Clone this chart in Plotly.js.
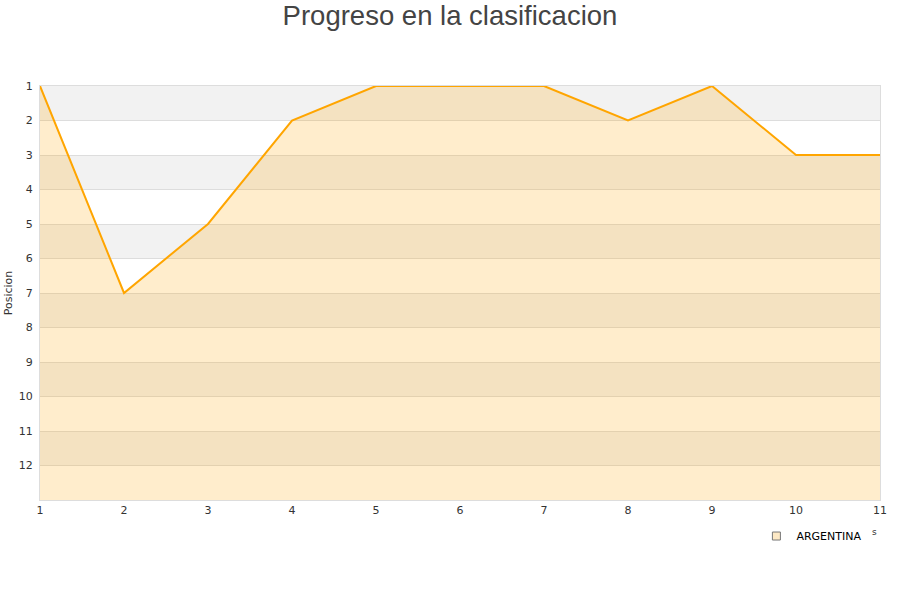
<!DOCTYPE html>
<html>
<head>
<meta charset="utf-8">
<script src="https://cdn.plot.ly/plotly-3.0.1.min.js"></script>
<style>html,body{margin:0;padding:0;background:#fff;}#chart{width:900px;height:600px;}</style>
</head>
<body>
<div id="chart"></div>
<script>
const jornadas = [1, 2, 3, 4, 5, 6, 7, 8, 9, 10, 11];
const posiciones = [1, 7, 5, 2, 1, 1, 1, 2, 1, 3, 3];
const teamName = "ARGENTINA";
const yTicks = [1, 2, 3, 4, 5, 6, 7, 8, 9, 10, 11, 12];
const bottomPos = 13;
const bandStarts = [1, 3, 5, 7, 9, 11];

const baseline = jornadas.map(() => bottomPos);

const traces = [
  {x: jornadas, y: baseline, mode: 'lines', line: {width: 0, color: 'rgba(0,0,0,0)'},
   showlegend: false, hoverinfo: 'skip'},
  {x: jornadas, y: posiciones, mode: 'lines', fill: 'tonexty',
   fillcolor: 'rgba(255,165,0,0.2)', line: {color: '#FFA500', width: 2},
   showlegend: false, name: teamName},
  {x: [null], y: [null], mode: 'markers', name: teamName,
   marker: {symbol: 'square', size: 8, color: '#fde9c5', line: {color: '#777', width: 1}}}
];

const shapes = bandStarts.map(s => ({
  type: 'rect', xref: 'x', yref: 'y', x0: jornadas[0], x1: jornadas[jornadas.length-1],
  y0: s, y1: s + 1, fillcolor: '#f2f2f2', line: {width: 0}, layer: 'below'
}));

const layout = {
  width: 900, height: 600,
  margin: {l: 40, r: 20, t: 86, b: 100},
  paper_bgcolor: '#fff', plot_bgcolor: '#fff',
  font: {family: 'DejaVu Sans, sans-serif', size: 11, color: '#333'},
  title: {text: 'Progreso en la clasificacion', x: 0.5, xanchor: 'center', y: 0.99, yanchor: 'top',
          font: {family: 'Liberation Sans, Arial, sans-serif', size: 27.5, color: '#444'}},
  xaxis: {range: [1, 11], tickvals: jornadas, showgrid: false, zeroline: false,
          showline: true, linecolor: '#ddd', linewidth: 1, mirror: true,
          ticks: '', tickfont: {size: 11, color: '#333'}, fixedrange: true},
  yaxis: {range: [13, 1], tickvals: yTicks, showgrid: true, gridcolor: '#dddddd', gridwidth: 1,
          zeroline: false, showline: true, linecolor: '#ddd', mirror: true, ticks: '',
          ticklabelstandoff: 4,
          tickfont: {size: 11, color: '#333'},
          title: {text: 'Posicion', font: {size: 11, color: '#333'}, standoff: 3}},
  shapes: shapes,
  showlegend: true,
  legend: {x: 0.985, xanchor: 'right', y: -0.087, yanchor: 'middle', orientation: 'h',
           bgcolor: 'rgba(255,255,255,0)', font: {size: 11, color: '#000'}},
  annotations: [{xref: 'paper', yref: 'paper', x: 0.994, y: -0.078, xanchor: 'center', yanchor: 'middle',
                 text: 's', showarrow: false, font: {size: 9, color: '#333'}}]
};

Plotly.newPlot('chart', traces, layout, {displayModeBar: false, staticPlot: true});
</script>
</body>
</html>
